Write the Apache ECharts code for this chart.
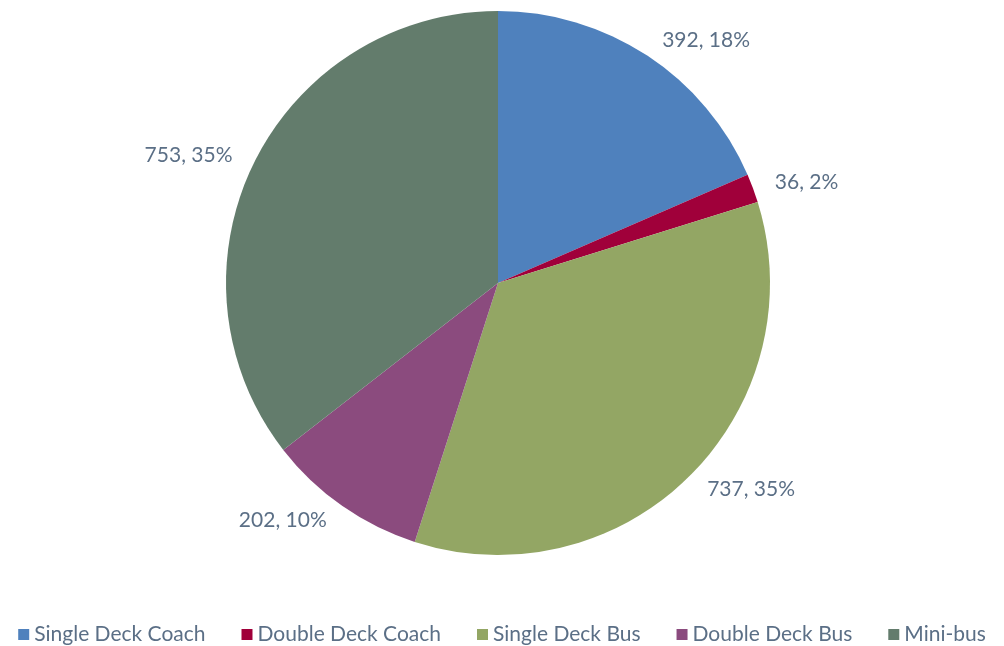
<!DOCTYPE html>
<html>
<head>
<meta charset="utf-8">
<script src="https://cdn.jsdelivr.net/npm/echarts@6/dist/echarts.min.js"></script>
<style>
  html, body { margin: 0; padding: 0; background: #ffffff; }
  #chart { width: 1004px; height: 646px; }
</style>
</head>
<body>
<div id="chart"></div>
<script>
// Vehicle fleet by type
const categories = ['Single Deck Coach', 'Double Deck Coach', 'Single Deck Bus', 'Double Deck Bus', 'Mini-bus'];
const counts = [392, 36, 737, 202, 753];
const percentLabels = [18, 2, 35, 10, 35];
const colors = ['#4f81bd', '#a0003a', '#93a664', '#8b4b7e', '#637c6c'];

const textColor = '#5b6f86';
const fontFamily = 'Lato, "Open Sans", sans-serif';

const chart = echarts.init(document.getElementById('chart'));
chart.setOption({
  animation: false,
  color: colors,
  legend: {
    top: 619,
    left: 'center',
    itemWidth: 11,
    itemHeight: 11,
    itemGap: 36,
    icon: 'rect',
    textStyle: { color: textColor, fontSize: 21, fontFamily: fontFamily },
    data: categories
  },
  series: [{
    type: 'pie',
    center: [498, 283],
    radius: 272,
    startAngle: 90,
    clockwise: true,
    avoidLabelOverlap: false,
    label: {
      position: 'outside',
      color: textColor,
      fontSize: 21,
      fontFamily: fontFamily,
      formatter: p => p.value + ', ' + percentLabels[p.dataIndex] + '%'
    },
    labelLine: { show: false, length: 18, length2: 0 },
    itemStyle: { borderWidth: 0 },
    emphasis: { disabled: true },
    data: categories.map((name, i) => ({ name: name, value: counts[i] }))
  }]
});
</script>
</body>
</html>
